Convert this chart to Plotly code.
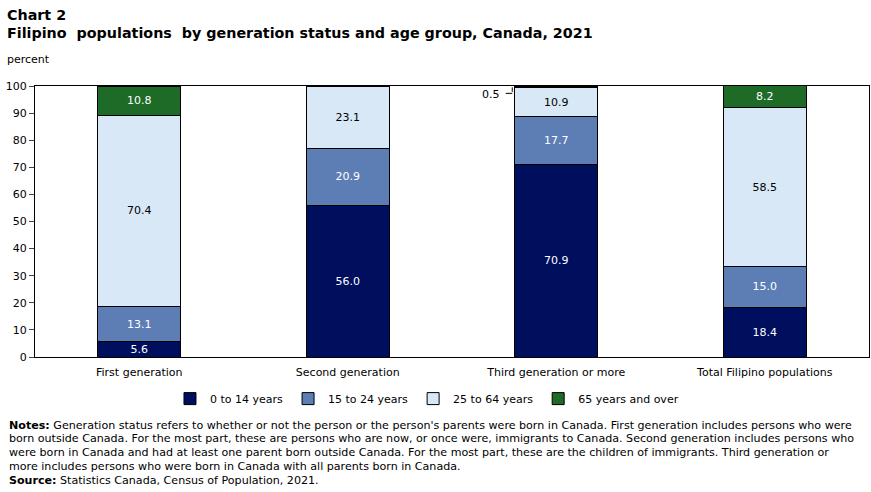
import plotly.graph_objects as go

categories = ["First generation", "Second generation", "Third generation or more", "Total Filipino populations"]
age_groups = ["0 to 14 years", "15 to 24 years", "25 to 64 years", "65 years and over"]
v_0_14 = [5.6, 56.0, 70.9, 18.4]
v_15_24 = [13.1, 20.9, 17.7, 15.0]
v_25_64 = [70.4, 23.1, 10.9, 58.5]
v_65 = [10.8, None, 0.5, 8.2]
y_ticks = [0, 10, 20, 30, 40, 50, 60, 70, 80, 90, 100]

series = [v_0_14, v_15_24, v_25_64, v_65]
colors = ["#000E5E", "#5D7DB5", "#D9E8F7", "#1E6B27"]
text_colors = ["white", "white", "black", "white"]
FONT = "DejaVu Sans, Verdana, sans-serif"

fig = go.Figure()
for name, vals, col, tc in zip(age_groups, series, colors, text_colors):
    labels = [f"{v:.1f}" if (v is not None and v >= 2) else "" for v in vals]
    fig.add_trace(go.Bar(
        x=categories, y=vals, name=name,
        marker=dict(color=col, line=dict(color="black", width=1)),
        text=labels, textposition="inside", insidetextanchor="middle",
        textfont=dict(color=tc, size=11, family=FONT),
        textangle=0, constraintext="none", hoverinfo="skip",
    ))

# small value label outside with leader line (anchored at the base of the small segment)
for i, v in enumerate(v_65):
    if v is not None and 0 < v < 2:
        base = v_0_14[i] + v_15_24[i] + v_25_64[i]
        fig.add_annotation(
            x=categories[i], y=base, xref="x", yref="y",
            text=f"{v:.1f}", showarrow=False, xanchor="right", yanchor="middle",
            xshift=-54, yshift=-7,
            font=dict(size=11, color="black", family=FONT),
        )
        # horizontal part of leader
        fig.add_annotation(
            x=categories[i], y=base, xref="x", yref="y",
            ax=-8, ay=0, axref="pixel", ayref="pixel",
            showarrow=True, arrowhead=0, arrowwidth=1, arrowcolor="black",
            text="", xshift=-44, yshift=-6,
        )
        # vertical part of leader
        fig.add_annotation(
            x=categories[i], y=base, xref="x", yref="y",
            ax=0, ay=6, axref="pixel", ayref="pixel",
            showarrow=True, arrowhead=0, arrowwidth=1, arrowcolor="black",
            text="", xshift=-44, yshift=0,
        )

fig.update_layout(
    barmode="stack",
    bargap=0.6,
    width=871, height=492,
    margin=dict(l=35, r=2, t=86, b=135),
    paper_bgcolor="white", plot_bgcolor="white",
    font=dict(family=FONT, size=11, color="black"),
    showlegend=True,
    legend=dict(orientation="h", x=0.47, xanchor="center", y=-0.1, yanchor="top",
                font=dict(size=11, family=FONT), traceorder="normal",
                itemwidth=30),
)
fig.update_yaxes(range=[0, 100], tickvals=y_ticks, ticks="outside", ticklen=5,
                 showline=True, linecolor="black", linewidth=1, mirror=True,
                 showgrid=False, zeroline=False, tickfont=dict(size=11))
fig.update_xaxes(showline=True, linecolor="black", linewidth=1, mirror=True,
                 ticks="", tickfont=dict(size=11), ticklabelstandoff=5)

fig.add_annotation(text="<b>Chart 2</b>", xref="paper", yref="paper", x=0, y=1,
                   xanchor="left", yanchor="top", showarrow=False,
                   font=dict(size=14.3, family=FONT), xshift=-30, yshift=81)
fig.add_annotation(text="<b>Filipino  populations  by generation status and age group, Canada, 2021</b>",
                   xref="paper", yref="paper", x=0, y=1,
                   xanchor="left", yanchor="top", showarrow=False,
                   font=dict(size=14.3, family=FONT), xshift=-30, yshift=63)
fig.add_annotation(text="percent", xref="paper", yref="paper", x=0, y=1,
                   xanchor="left", yanchor="top", showarrow=False,
                   font=dict(size=11, family=FONT), xshift=-30, yshift=35)

note_lines = [
    "<b>Notes:</b> Generation status refers to whether or not the person or the person's parents were born in Canada. First generation includes persons who were",
    "born outside Canada. For the most part, these are persons who are now, or once were, immigrants to Canada. Second generation includes persons who",
    "were born in Canada and had at least one parent born outside Canada. For the most part, these are the children of immigrants. Third generation or",
    "more includes persons who were born in Canada with all parents born in Canada.",
    "<b>Source:</b> Statistics Canada, Census of Population, 2021.",
]
for k, line in enumerate(note_lines):
    fig.add_annotation(text=line, xref="paper", yref="paper", x=0, y=0,
                       xanchor="left", yanchor="middle", align="left", showarrow=False,
                       font=dict(size=11.1, family="DejaVu Sans, sans-serif"),
                       xshift=-28, yshift=-68 - 13.75 * k)

fig.write_html("out.html")
